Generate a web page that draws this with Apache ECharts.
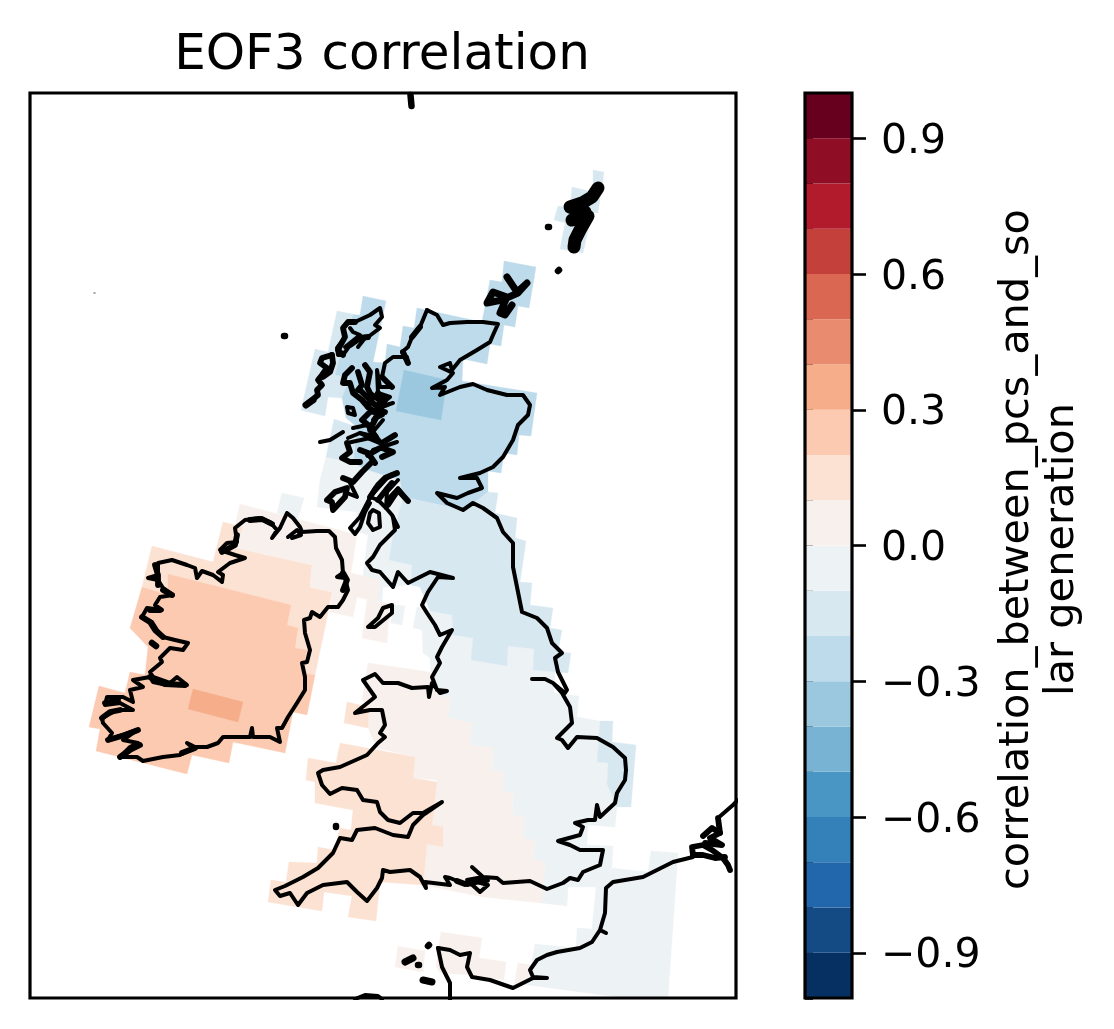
<!DOCTYPE html>
<html>
<head>
<meta charset="utf-8">
<script src="https://cdn.jsdelivr.net/npm/echarts@6/dist/echarts.min.js"></script>
<style>html,body{margin:0;background:#fff}#chart{width:1114px;height:1029px}</style>
</head>
<body>
<div id="chart"></div>
<script>
// colour bar levels, lower edge of each band
var bandLow = [-1,-0.9,-0.8,-0.7,-0.6,-0.5,-0.4,-0.3,-0.2,-0.1,0,0.1,0.2,0.3,0.4,0.5,0.6,0.7,0.8,0.9];
var bandColor = ['#053061','#154b85','#2266ac','#3480b9','#4996c5','#78b3d4','#9bc8df','#bddbeb','#d8e8f1','#edf2f5',
                 '#f8f0ec','#fce2d3','#fbcab1','#f6ae8a','#e98b6e','#d96751','#c4403b','#b11b2c','#8f0d25','#67001f'];
var majorTicks = [-0.9,-0.6,-0.3,0,0.3,0.6,0.9];

// correlation regions, map units
var cellValues = [-0.15,-0.15,-0.05,-0.05,-0.25,-0.15,-0.35,-0.05,-0.15,0.05,0.05,0.15,0.15,
                  0.15,0.25,0.35,0.05,-0.05,-0.15,0.05,0.05,0.05,-0.05];
var cellPolygons = [
  [[593,170],[604,172],[598,213],[592,213],[583,253],[560,249],[565,223],[554,220],[558,206],[570,208],[572,187],[593,192]],
  [[337,311],[358,315],[335,375],[350,377],[342,398],[328,397],[325,416],[301,410],[315,349],[328,352]],
  [[326,457],[353,463],[368,470],[400,480],[403,497],[392,540],[389,560],[412,565],[411,585],[370,588],[363,575],[368,535],[353,530],[357,512],[317,507],[320,480]],
  [[370,588],[383,587],[382,603],[405,606],[402,625],[391,623],[393,604],[368,600]],
  [[363,296],[386,301],[373,362],[385,363],[387,344],[400,347],[403,326],[414,328],[417,308],[482,322],[490,280],[502,282],[504,261],[536,267],[529,308],[518,306],[515,327],[504,325],[501,346],[490,344],[487,364],[463,359],[462,381],[537,393],[531,436],[519,435],[517,455],[504,453],[501,473],[488,471],[488,492],[478,500],[463,510],[440,505],[403,497],[400,480],[368,470],[353,463],[357,427],[346,418],[342,398],[350,377],[335,375],[353,315],[360,315]],
  [[334,419],[357,427],[353,463],[326,457]],
  [[404,370],[447,380],[441,420],[396,411]],
  [[534,649],[533,670],[555,672],[554,693],[579,696],[577,717],[600,721],[597,762],[608,763],[607,784],[617,807],[615,827],[588,825],[587,845],[613,846],[612,867],[596,887],[568,887],[567,906],[541,903],[545,862],[533,860],[535,840],[523,838],[524,817],[512,815],[513,793],[503,792],[503,772],[492,770],[493,748],[470,745],[472,723],[447,718],[451,698],[440,697],[431,672],[430,658],[423,653],[422,630],[413,628],[417,607],[423,608],[430,611],[452,615],[453,635],[473,638],[471,660],[507,666],[508,646]],
  [[488,492],[498,493],[495,513],[517,518],[515,538],[526,541],[520,582],[532,583],[530,605],[553,608],[550,628],[562,630],[558,652],[571,653],[568,673],[555,672],[533,670],[534,649],[508,646],[507,666],[471,660],[473,638],[453,635],[452,615],[430,611],[420,587],[411,585],[412,565],[389,560],[392,540],[403,497],[440,505],[463,510],[478,500]],
  [[368,663],[430,672],[440,697],[451,698],[447,718],[472,723],[470,745],[493,748],[492,770],[503,772],[503,792],[513,793],[512,815],[524,817],[523,838],[535,840],[533,860],[545,862],[542,903],[483,897],[448,890],[423,885],[427,844],[441,847],[443,827],[432,825],[437,780],[413,778],[415,757],[377,748],[368,728],[369,707],[362,700]],
  [[367,600],[390,604],[387,643],[362,638]],
  [[347,702],[369,707],[368,728],[344,723]],
  [[415,757],[340,743],[336,763],[308,758],[306,780],[315,782],[315,803],[353,810],[351,830],[340,828],[334,850],[318,847],[317,863],[289,862],[286,882],[271,880],[268,902],[322,911],[324,892],[352,896],[348,917],[376,921],[380,882],[423,885],[427,844],[443,847],[443,827],[432,825],[437,782],[413,778]],
  [[223,522],[243,527],[236,548],[312,565],[310,587],[332,592],[327,618],[315,675],[302,673],[307,650],[295,648],[298,628],[287,625],[291,605],[168,574],[168,595],[142,587],[152,546],[213,562]],
  [[168,574],[291,605],[287,625],[298,628],[295,648],[307,650],[302,673],[315,675],[307,715],[293,712],[285,753],[233,742],[229,763],[192,755],[187,774],[96,751],[100,729],[89,727],[99,686],[125,693],[130,672],[145,675],[148,647],[130,628],[142,587],[168,595]],
  [[193,689],[243,702],[238,722],[188,709]],
  [[240,504],[328,527],[357,535],[351,573],[380,580],[377,602],[357,597],[353,617],[330,612],[332,592],[310,587],[312,565],[236,548],[243,527],[235,525]],
  [[282,493],[304,498],[298,519],[277,513]],
  [[600,721],[613,721],[612,742],[636,745],[631,807],[617,807],[607,784],[608,763],[597,762]],
  [[441,932],[482,938],[479,958],[506,962],[504,980],[470,975],[440,973],[436,966],[438,950]],
  [[518,963],[532,965],[530,985],[514,985]],
  [[398,946],[425,951],[423,972],[395,967]],
  [[535,944],[576,948],[577,928],[592,929],[596,887],[612,868],[648,872],[651,851],[678,853],[668,998],[625,998],[528,985]]
];

// coast outlines, same units
var coastThin = [
  // ireland
  [[287,513],[293,518],[300,527],[302,532],[317,531],[329,531],[335,537],[336,548],[342,560],[343,573],[337,577],[345,578],[348,590],[343,600],[338,607],[328,607],[320,617],[312,612],[310,618],[304,620],[305,633],[310,650],[307,662],[302,663],[305,677],[305,690],[297,703],[288,717],[282,728],[277,728],[280,742],[270,737],[253,737],[252,728],[250,737],[223,737],[218,743],[207,747],[195,747],[187,743],[193,748],[180,755],[163,757],[143,761],[137,757],[120,757],[130,747],[138,743],[123,740],[137,730],[117,737],[108,740],[112,733],[103,723],[102,718],[117,710],[133,710],[120,703],[105,705],[107,697],[123,697],[133,702],[130,690],[143,687],[133,680],[150,677],[153,682],[167,685],[187,685],[177,677],[170,683],[153,677],[150,672],[162,662],[160,658],[170,648],[183,650],[188,643],[175,640],[163,637],[157,630],[152,622],[142,617],[147,608],[162,610],[155,605],[160,597],[173,595],[163,588],[158,580],[148,578],[158,575],[158,563],[172,560],[187,565],[195,568],[197,578],[202,571],[213,575],[222,582],[223,575],[218,572],[230,563],[245,558],[235,555],[220,550],[227,543],[237,542],[235,528],[245,520],[260,518],[270,522],[277,530],[272,538],[280,528],[287,513]],
  [[288,537],[297,530],[301,535],[292,538]],
  // great britain, cape wrath clockwise round to the clyde
  [[427,310],[437,315],[443,325],[450,323],[467,322],[483,322],[498,324],[493,335],[490,342],[477,350],[460,360],[452,370],[450,363],[440,367],[453,373],[447,380],[432,388],[445,387],[440,395],[460,387],[473,384],[487,390],[507,395],[523,395],[530,405],[528,415],[518,425],[513,440],[503,457],[493,467],[480,473],[460,478],[477,478],[482,488],[468,493],[457,498],[437,493],[435,493],[447,503],[463,510],[473,503],[483,508],[497,518],[503,532],[513,543],[513,567],[517,587],[522,612],[537,618],[547,628],[552,643],[562,653],[555,658],[558,672],[567,690],[565,693],[553,683],[545,679],[532,679],[545,679],[553,683],[562,693],[570,707],[572,723],[557,738],[562,740],[568,748],[577,737],[597,738],[613,747],[625,758],[626,770],[625,780],[617,793],[615,803],[600,817],[597,805],[595,820],[588,820],[575,823],[583,827],[580,835],[558,841],[570,845],[580,850],[603,850],[600,865],[583,872],[578,880],[570,878],[563,883],[547,889],[530,881],[503,883],[497,878],[483,877],[472,867],[483,877],[467,880],[480,892],[488,885],[477,882],[467,885],[450,878],[445,877],[450,885],[425,882],[426,888],[420,877],[410,870],[390,872],[383,870],[382,878],[377,888],[367,901],[357,892],[347,882],[323,885],[307,893],[298,905],[290,893],[280,896],[275,890],[285,886],[303,877],[318,868],[333,853],[340,838],[352,840],[357,830],[375,828],[393,835],[408,837],[413,825],[423,815],[442,802],[423,813],[413,813],[400,823],[388,820],[380,812],[377,802],[363,800],[357,790],[342,788],[330,794],[322,785],[318,773],[323,770],[340,767],[367,755],[378,743],[385,737],[380,733],[385,725],[382,710],[370,710],[355,713],[375,697],[363,680],[375,674],[383,683],[398,683],[412,688],[428,687],[429,697],[432,683],[440,693],[447,691],[437,690],[432,677],[440,663],[437,657],[442,647],[452,630],[440,635],[435,625],[427,613],[422,605],[428,592],[438,577],[453,578],[430,572],[418,578],[408,583],[398,572],[393,587],[380,572],[372,570],[367,563],[373,557],[380,545],[395,530],[393,517]],
  // west highlands and the clyde sea lochs
  [[427,310],[420,327],[412,337],[408,347],[402,352],[408,363],[410,365],[407,357],[393,357],[385,363],[382,377],[392,387],[380,387],[377,370],[378,393],[390,397],[378,407],[393,403],[370,412],[383,415],[373,420],[378,413],[370,427],[377,437],[360,433]],
  [[393,517],[398,527],[392,515],[386,508],[387,492],[398,480]],
  [[387,500],[398,488],[408,501]],
  [[386,508],[378,500],[370,497],[390,475],[397,473]],
  [[370,497],[375,488],[360,517],[350,528],[355,534],[360,527],[365,512],[370,503]],
  [[370,513],[368,523],[373,530],[380,527],[379,513],[373,510],[370,513]],
  [[350,483],[357,497],[347,493]],
  [[320,442],[330,440],[343,432]],
  [[348,438],[360,433],[370,438],[347,443]],
  [[373,450],[397,442]],
  [[353,428],[367,425],[372,433],[383,420]],
  // lewis and harris
  [[380,308],[382,317],[375,325],[380,328],[368,337],[360,338],[350,345],[343,355],[338,355],[337,348],[345,337],[343,328],[348,322],[355,322],[370,315],[380,308]],
  [[350,328],[353,332],[360,335],[345,347],[357,340],[365,338],[358,347]],
  // small isles
  [[347,407],[353,408],[355,415],[348,413],[347,407]],
  // isle of man
  [[368,627],[375,627],[392,613],[392,605],[383,608],[378,618],[368,627]],
  // france and belgium
  [[438,948],[450,950],[460,955],[470,953],[467,967],[472,977],[490,980],[513,988],[533,978],[547,978],[533,977],[530,970],[537,960],[547,955],[557,952],[580,948],[592,942],[600,930],[606,933],[600,930],[605,913],[606,888],[613,882],[643,877],[673,862],[693,857]],
  [[438,948],[442,967],[450,983],[450,1000]],
  [[355,999],[365,995],[378,996],[382,999]],
  // netherlands
  [[718,818],[733,805],[738,800]]
];
// the broken bits of coast, where the line doubles up on itself
var coastMedium = [
  [[142,617],[150,622],[155,630],[163,637]],[[155,565],[158,575],[158,585]],[[120,757],[130,750],[140,745]],[[108,740],[125,735],[138,730]],
  [[102,718],[110,712],[120,710]],[[105,703],[118,700]],[[222,552],[235,545],[237,535]],[[343,590],[347,580],[343,573]],[[150,677],[165,684],[185,685]],
  [[250,520],[262,519],[272,524]],[[172,595],[163,590]],[[160,610],[150,610]],[[195,748],[182,753]],
  [[332,355],[322,358],[320,363],[327,368],[322,375],[318,380],[322,385],[317,390],[318,395],[312,400],[308,403]],
  [[323,377],[330,372],[333,363],[332,355]],
  [[343,355],[338,350],[345,337],[343,328],[348,322],[355,322]],[[350,345],[360,338],[368,337]],
  [[352,368],[345,375],[343,383],[350,383],[353,393],[362,400],[368,407]],
  [[365,365],[370,372],[367,387],[372,397],[368,407],[375,412]],
  [[358,372],[362,385],[358,390]],[[372,395],[380,400],[377,410],[385,412]],
  [[378,393],[385,400],[380,410],[375,420],[370,430],[378,440]],[[382,377],[392,387]],[[403,352],[408,363]],[[412,337],[420,327]],
  [[360,390],[368,398],[375,405]],[[370,412],[362,420],[372,428]],
  [[347,443],[350,452],[342,458],[350,462],[360,462]],[[360,450],[368,453],[375,463]],
  [[370,438],[382,443],[395,435]],[[368,455],[380,448]],[[382,457],[393,452],[382,448]],
  [[343,478],[353,482],[362,472],[372,462]],[[327,500],[335,492],[347,488],[345,497],[333,510],[332,502],[327,500]],
  [[370,497],[378,485],[385,478],[397,473]],[[378,500],[386,490],[392,483]],[[388,505],[398,490],[408,501]],
  [[693,855],[692,847],[703,845],[712,850],[723,858],[728,865],[730,870]],
  [[693,855],[703,855],[715,858],[725,857]],
  [[703,836],[712,828],[720,833],[710,838],[722,845],[705,843]],[[718,818],[720,833]],
  [[457,881],[465,884],[487,880]]
];
var coastHeavy = [
  [[507,277],[517,292],[527,283],[518,293],[502,300],[487,303],[493,292],[507,297],[500,313],[505,315],[512,305]],
  [[306,405],[313,400]],
  [[405,962],[413,958]],[[423,980],[432,982]]
];
var shetland = [[598,188],[592,197],[582,203],[570,207],[585,212],[572,220],[588,216],[580,230],[575,240],[574,247]];
var islets = [[[548,227],[549,227]],[[558,271],[559,270]],[[284,336],[285,336]],[[336,826],[336,827]],[[428,946],[429,945]],[[418,965],[419,965]],[[152,643],[156,646]],[[410.5,95],[411.5,106]]];
var rockall = [[94,293],[95,293]];

function colorOf(v) {
  for (var i = bandLow.length - 1; i >= 0; i--) {
    if (v >= bandLow[i]) return bandColor[i];
  }
  return bandColor[0];
}

function coastSeries(path, width, color) {
  return {
    type: 'line', xAxisIndex: 0, yAxisIndex: 0, data: path, symbol: 'none', silent: true, animation: false, z: 5,
    lineStyle: { color: color || '#000', width: width, cap: 'round', join: 'round' }
  };
}

var series = [
  {
    type: 'custom', xAxisIndex: 0, yAxisIndex: 0, clip: true, silent: true, animation: false, z: 2,
    data: cellValues.map(function (v, i) { return [i, v]; }),
    renderItem: function (params, api) {
      var poly = cellPolygons[api.value(0)];
      var col = colorOf(api.value(1));
      return {
        type: 'polygon',
        shape: { points: poly.map(function (p) { return api.coord(p); }) },
        style: { fill: col, stroke: col, lineWidth: 0.3 }
      };
    }
  },
  {
    type: 'custom', xAxisIndex: 1, yAxisIndex: 1, silent: true, animation: false, z: 2,
    data: bandLow.map(function (v) { return [0, v]; }),
    renderItem: function (params, api) {
      var low = api.value(1);
      var a = api.coord([0, low]);
      var b = api.coord([1, low + 0.1]);
      return {
        type: 'rect',
        shape: { x: a[0], y: b[1], width: b[0] - a[0], height: a[1] - b[1] },
        style: { fill: colorOf(low + 0.05) }
      };
    }
  }
];
coastThin.forEach(function (p) { series.push(coastSeries(p, 4)); });
coastMedium.forEach(function (p) { series.push(coastSeries(p, 5.8)); });
coastHeavy.forEach(function (p) { series.push(coastSeries(p, 7)); });
series.push(coastSeries(shetland, 13));
islets.forEach(function (p) { series.push(coastSeries(p, 6.5)); });
series.push(coastSeries(rockall, 1.5, '#888'));

var font = 'DejaVu Sans';
var chart = echarts.init(document.getElementById('chart'));
chart.setOption({
  animation: false,
  backgroundColor: '#fff',
  title: {
    text: 'EOF3 correlation', left: 377, top: 26, textAlign: 'center',
    textStyle: { fontFamily: font, fontSize: 50, fontWeight: 'normal', color: '#000' }
  },
  grid: [
    { left: 30, top: 93, width: 706, height: 905, show: true, borderColor: '#000', borderWidth: 3.2, backgroundColor: 'transparent', z: 10 },
    { left: 805, top: 93, width: 47, height: 905, show: true, borderColor: '#000', borderWidth: 3.2, backgroundColor: 'transparent', z: 10 }
  ],
  xAxis: [
    { type: 'value', gridIndex: 0, min: 30, max: 736, show: false },
    { type: 'value', gridIndex: 1, min: 0, max: 1, show: false }
  ],
  yAxis: [
    { type: 'value', gridIndex: 0, min: 93, max: 998, inverse: true, show: false },
    {
      type: 'value', gridIndex: 1, min: -1, max: 1, interval: 0.1, position: 'right',
      axisLine: { show: false }, splitLine: { show: false }, axisLabel: { show: false },
      axisTick: { show: true, length: 8, lineStyle: { color: '#000', width: 2.6 } }
    },
    {
      type: 'value', gridIndex: 1, min: -1, max: 1, position: 'right',
      axisLine: { show: false }, splitLine: { show: false },
      axisTick: { show: true, length: 14, customValues: majorTicks, lineStyle: { color: '#000', width: 2.6 } },
      axisLabel: {
        show: true, customValues: majorTicks, margin: 29,
        formatter: function (v) { return '{n|' + v.toFixed(1).replace('-', '\u2212') + '}'; },
        rich: { n: { color: '#000', fontFamily: font, fontSize: 41, padding: [8, 0, 0, 0] } }
      },
      name: 'correlation_between_pcs_and_so\nlar generation',
      nameLocation: 'middle', nameRotate: 90, nameGap: 143,
      nameTextStyle: { color: '#000', fontFamily: font, fontSize: 41.5, lineHeight: 45, align: 'center', padding: [0, 8, 0, 0] }
    }
  ],
  series: series
});
</script>
</body>
</html>
